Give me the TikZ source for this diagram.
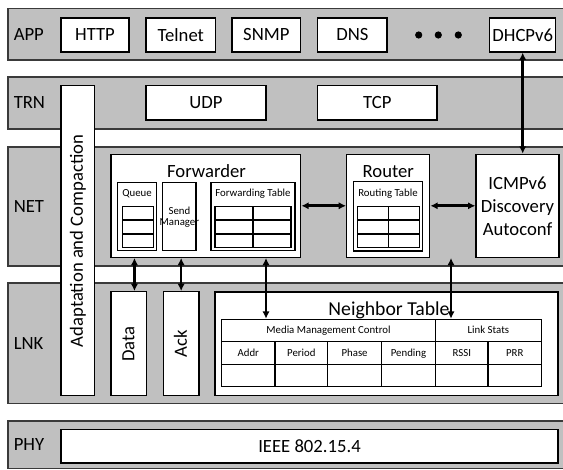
\documentclass[tikz,border=0pt]{standalone}
\usepackage{fontspec}
\setmainfont{Carlito}
\usetikzlibrary{arrows.meta,fit,calc}

\definecolor{bandgray}{HTML}{C0C0C0}
\definecolor{bandline}{HTML}{3A3A3A}

% white box fitted to two corners, with its caption centred in it
\newcommand{\labelbox}[6]{%
  \node[box, fit={(#2,#3) (#4,#5)}] (#1) {};
  \node[big, align=center] (#1-t) at (#1.center) {#6};
}

\begin{document}
\begin{tikzpicture}[x=0.75pt,y=-0.75pt,
  band/.style={draw=bandline, line width=0.9pt},
  box/.style={draw=black, fill=white, line width=1pt, inner sep=0pt},
  cell/.style={draw=black, line width=0.9pt},
  big/.style={font=\fontsize{14}{17.25}\selectfont, inner sep=0pt},
  small/.style={font=\fontsize{8.1}{8.5}\selectfont, inner sep=0pt},
  lyr/.style={big, anchor=west},
  arr/.style={line width=2pt,
    {Latex[length=5.5pt,width=5.5pt]}-{Latex[length=5.5pt,width=5.5pt]}},
]
% canvas
\fill[white] (0,0) rectangle (563,470);
\useasboundingbox (0,0) rectangle (563,470);

% ---------------- layer bands (open on the right) ----------------
\fill[bandgray] (8,8.5) rectangle (575,60);
\draw[band] (575,8.5) -- (8,8.5) -- (8,60) -- (575,60);
\fill[bandgray] (8,77) rectangle (575,129);
\draw[band] (575,77) -- (8,77) -- (8,129) -- (575,129);
\fill[bandgray] (8,147) rectangle (575,266);
\draw[band] (575,147) -- (8,147) -- (8,266) -- (575,266);
\fill[bandgray] (8,283) rectangle (575,403.5);
\draw[band] (575,283) -- (8,283) -- (8,403.5) -- (575,403.5);
\fill[bandgray] (8,421) rectangle (575,468.5);
\draw[band] (575,421) -- (8,421) -- (8,468.5) -- (575,468.5);

\node[lyr] (lapp) at (13.5,34.5) {APP};
\node[lyr] (ltrn) at (13.5,103) {TRN};
\node[lyr] (lnet) at (13.5,206.5) {NET};
\node[lyr] (llnk) at (13.5,343.5) {LNK};
\node[lyr] (lphy) at (13.5,445) {PHY};

% ---------------- APP ----------------
\labelbox{http}{61}{18}{129}{52}{HTTP}
\labelbox{telnet}{146}{18}{215.7}{52}{Telnet}
\labelbox{snmp}{232}{18}{300.7}{52}{SNMP}
\labelbox{dns}{317.7}{18}{387}{52}{DNS}
\fill (418.7,35) circle (3.6) (438.3,35) circle (3.6) (458.3,35) circle (3.6);
\labelbox{dhcp}{489.7}{18}{555.7}{52}{DHCPv6}

% ---------------- TRN ----------------
\labelbox{udp}{146}{85.7}{266}{120}{UDP}
\labelbox{tcp}{317.7}{85.7}{437}{120}{TCP}

% adaptation layer spanning TRN..LNK
\node[box, fit={(61,85.7) (94.5,395.7)}] (adapt) {};
\node[big, rotate=90] (adapttxt) at (77.8,241) {Adaptation and Compaction};

% ---------------- NET ----------------
\node[box, fit={(111,154.3) (300.7,257.3)}] (fwd) {};
\node[big, anchor=base] (fwdtxt) at (206.5,177.3) {Forwarder};

\node[box, fit={(117.3,182.3) (156.7,250.7)}] (queue) {};
\node[small, anchor=base] (queuetxt) at (137,197) {Queue};
\draw[cell] (122.3,206.7) rectangle (153.3,247.3);
\draw[cell] (122.3,220) -- (153.3,220) (122.3,234) -- (153.3,234);

\node[box, fit={(162.7,182.3) (196,250.7)}] (send) {};
\node[small, align=center] (sendtxt) at (179.4,217) {Send\\Manager};

\node[box, fit={(211,182.3) (295,250.7)}] (ftab) {};
\node[small, anchor=base] (ftabtxt) at (253,197) {Forwarding Table};
\draw[cell] (215,206.7) rectangle (291,247.3);
\draw[cell] (215,220) -- (291,220) (215,234) -- (291,234) (253,206.7) -- (253,247.3);

\node[box, fit={(346.7,154.3) (429.7,257.3)}] (router) {};
\node[big, anchor=base] (routertxt) at (388.3,177.3) {Router};
\node[box, fit={(353.3,181.7) (422.7,251)}] (rtab) {};
\node[small, anchor=base] (rtabtxt) at (388,197) {Routing Table};
\draw[cell] (357.3,206.7) rectangle (419.5,247.3);
\draw[cell] (357.3,220) -- (419.5,220) (357.3,234) -- (419.5,234) (388.5,206.7) -- (388.5,247.3);

\labelbox{icmp}{476}{154.3}{559}{257.3}{ICMPv6\\Discovery\\Autoconf}

% ---------------- LNK ----------------
\node[box, fit={(111,291.7) (146.7,395.7)}] (data) {};
\node[big, rotate=90] (datatxt) at (128.5,344) {Data};
\node[box, fit={(163.3,291.7) (199,395.7)}] (ack) {};
\node[big, rotate=90] (acktxt) at (180.5,343.7) {Ack};

\node[box, fit={(215,292) (558,395.7)}] (nbr) {};
\node[anchor=base, inner sep=0pt, font=\fontsize{14.8}{17}\selectfont] (nbrtxt) at (389,315) {Neighbor Table};
\node[cell, inner sep=0pt, fit={(221.5,319.3) (541.3,386.7)}] (ntab) {};
\draw[cell] (221.5,341.7) -- (541.3,341.7) (221.5,364.7) -- (541.3,364.7);
\draw[cell] (435.5,319.3) -- (435.5,386.7);
\draw[cell] (275,341.7) -- (275,386.7) (327.7,341.7) -- (327.7,386.7)
            (381.5,341.7) -- (381.5,386.7) (488,341.7) -- (488,386.7);
\node[small, anchor=base] (mmc) at (328.5,333.5) {Media Management Control};
\node[small, anchor=base] (lstats) at (488.4,333.5) {Link Stats};
\node[small, anchor=base] (caddr) at (248.3,356.5) {Addr};
\node[small, anchor=base] (cperiod) at (301.4,356.5) {Period};
\node[small, anchor=base] (cphase) at (354.6,356.5) {Phase};
\node[small, anchor=base] (cpending) at (408.5,356.5) {Pending};
\node[small, anchor=base] (crssi) at (461.8,356.5) {RSSI};
\node[small, anchor=base] (cprr) at (514.7,356.5) {PRR};

% ---------------- PHY ----------------
\labelbox{ieee}{61}{429.3}{558}{463}{IEEE 802.15.4}

% ---------------- connectors ----------------
\draw[arr] (dhcp.south) -- (dhcp.south |- icmp.north);
\draw[arr] (fwd.east) -- (router.west);
\draw[arr] (router.east) -- (icmp.west);

\coordinate (dq) at ($(data.north)+(5.6,0)$);
\draw[arr] (dq |- fwd.south) -- (dq);
\draw[arr] (ack.north |- fwd.south) -- (ack.north);

\coordinate (ftx) at (266,300);
\draw[arr] (fwd.south -| ftx) -- (ntab.north -| ftx);
\coordinate (rtx) at (451,300);
\draw[arr] (router.south -| rtx) -- (ntab.north -| rtx);
\end{tikzpicture}
\end{document}
